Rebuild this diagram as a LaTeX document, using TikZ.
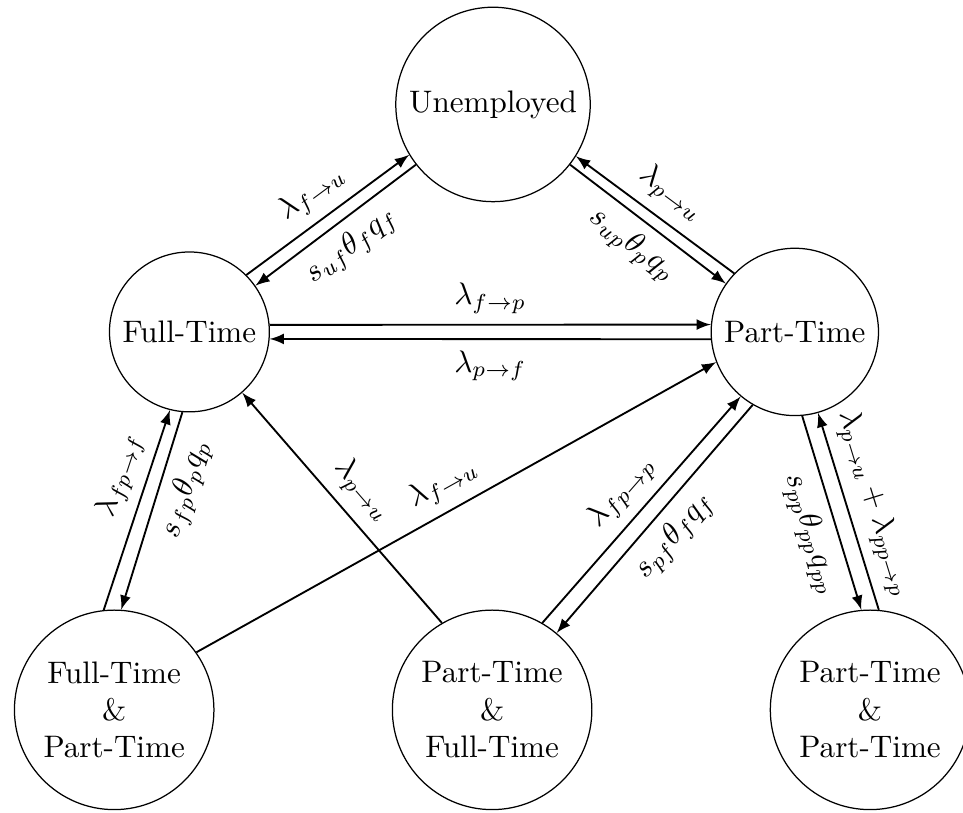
\documentclass[tikz,border=0pt]{standalone}
\usepackage{tikz}
\usepackage{xcolor}
\usepackage{amssymb,amsmath}

\begin{document}
\begin{tikzpicture}[state/.style={circle, draw, align=center}, trans/.style={-latex, semithick}]
		\useasboundingbox (0,0) rectangle (10.88,-9.18);

		\node[state] (unemp) at (5.57,-1.18) {Unemployed};
		\node[state] (full) at (2.14,-3.75) {Full-Time};
		\node[state] (part) at (8.98,-3.75) {Part-Time};
		\node[state] (fullpart) at (1.29,-8.02) {Full-Time\\\&\\Part-Time};
		\node[state] (partfull) at (5.56,-8.02) {Part-Time\\\&\\Full-Time};
		\node[state] (partpart) at (9.83,-8.02) {Part-Time\\\&\\Part-Time};

		\draw[trans] (full.45) -- node[above, sloped] {$\lambda_{f\to u}$} (unemp.211);
		\draw[trans] (unemp.218) -- node[below, sloped] {$s_{uf}\theta_f q_f$} (full.35);
		\draw[trans] (part.136) -- node[above, sloped] {$\lambda_{p\to u}$} (unemp.328);
		\draw[trans] (unemp.322) -- node[below, sloped] {$s_{up}\theta_p q_p$} (part.145);

		\draw[trans] (full.5) -- node[above] {$\lambda_{f\to p}$} (part.175);
		\draw[trans] (part.185) -- node[below] {$\lambda_{p\to f}$} (full.355);

		\draw[trans] (fullpart.96) -- node[above, sloped, pos=0.63] {$\lambda_{fp\to f}$} (full.256);
		\draw[trans] (full.265) -- node[below, sloped, pos=0.35] {$s_{fp}\theta_p q_p$} (fullpart.86);
		\draw[trans] (partfull.120) -- node[above, sloped] {$\lambda_{p\to u}$} (full.311);
		\draw[trans] (fullpart.35) -- node[above, sloped] {$\lambda_{f\to u}$} (part.201);

		\draw[trans] (partfull.60) -- node[above, sloped] {$\lambda_{fp\to p}$} (part.230);
		\draw[trans] (part.240) -- node[below, sloped] {$s_{pf}\theta_f q_f$} (partfull.50);
		\draw[trans] (part.275) -- node[below, sloped, pos=0.57] {$s_{pp}\theta_{pp} q_{pp}$} (partpart.95);
		\draw[trans] (partpart.85) -- node[above, sloped] {$\lambda_{p\to u} + \lambda_{pp\to p}$} (part.286);
\end{tikzpicture}
\end{document}
